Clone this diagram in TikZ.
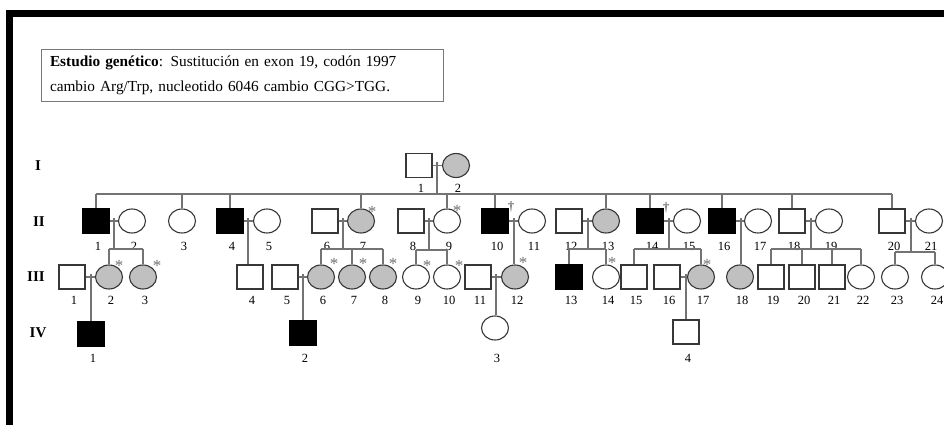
\documentclass[tikz,border=0pt]{standalone}
\usepackage{fontspec}
\setmainfont{Liberation Serif}
\usetikzlibrary{shapes.geometric}
\definecolor{linec}{RGB}{115,115,115}
\definecolor{symc}{RGB}{55,55,55}
\definecolor{carc}{RGB}{192,192,192}
\definecolor{boxc}{RGB}{120,120,120}
\newcommand{\pind}[6]{\node[#2] (#1) at (#3,#4) {}; \node[lab] (#1l) at (#3+2,#6) {#5};}
\begin{document}
\begin{tikzpicture}[x=1pt,y=-1pt,
 male/.style={rectangle,draw=symc,line width=1.1pt,fill=white,minimum width=26pt,minimum height=24pt,inner sep=0pt},
 female/.style={ellipse,draw=symc,line width=1.1pt,fill=white,minimum width=27pt,minimum height=24pt,inner sep=0pt},
 aff/.style={fill=black,draw=black},
 car/.style={fill=carc},
 lab/.style={font=\fontsize{12.5}{12.5}\selectfont,inner sep=0pt},
 ln/.style={draw=linec,line width=1.3pt},
 astk/.style={font=\fontsize{17}{17}\selectfont,text=linec,inner sep=0pt},
 dagg/.style={font=\fontsize{13}{13}\selectfont,text=black!80,inner sep=0pt},
 gen/.style={font=\fontsize{15}{15}\selectfont\bfseries,inner sep=0pt}]
\useasboundingbox (0,0) rectangle (944,425);
\clip (0,0) rectangle (944,425);
\fill[white] (0,0) rectangle (944,425);
% frame
\draw[line width=7pt] (1000,13.5) -- (9.5,13.5) -- (9.5,600);
% info box
\node[draw=boxc,line width=0.8pt,minimum width=402pt,minimum height=52pt,text width=384pt,inner xsep=9pt,align=left,font=\fontsize{15.3}{25}\selectfont] (info) at (242,75)
 {{\bfseries Estudio genético}: Sustitución en exon 19, codón 1997\\cambio Arg/Trp, nucleotido 6046 cambio CGG>TGG.};
% generation labels
\node[gen] (gI) at (38,166) {I};
\node[gen] (gII) at (39,222) {II};
\node[gen] (gIII) at (36,277) {III};
\node[gen] (gIV) at (38,333) {IV};
% Generation I
\pind{I1}{male}{419}{165.5}{1}{188}
\pind{I2}{female,car}{456}{165.5}{2}{188}
% Generation II
\pind{II1}{male,aff}{96}{221}{1}{246}
\pind{II2}{female}{132}{221}{2}{246}
\pind{II3}{female}{182}{221}{3}{246}
\pind{II4}{male,aff}{230}{221}{4}{246}
\pind{II5}{female}{267}{221}{5}{246}
\pind{II6}{male}{325}{221}{6}{246}
\pind{II7}{female,car}{361}{221}{7}{246}
\pind{II8}{male}{411}{221}{8}{246}
\pind{II9}{female}{447}{221}{9}{246}
\pind{II10}{male,aff}{495}{221}{10}{246}
\pind{II11}{female}{532}{221}{11}{246}
\pind{II12}{male}{569}{221}{12}{246}
\pind{II13}{female,car}{606}{221}{13}{246}
\pind{II14}{male,aff}{650}{221}{14}{246}
\pind{II15}{female}{687}{221}{15}{246}
\pind{II16}{male,aff}{722}{221}{16}{246}
\pind{II17}{female}{758}{221}{17}{246}
\pind{II18}{male}{792}{221}{18}{246}
\pind{II19}{female}{829}{221}{19}{246}
\pind{II20}{male}{892}{221}{20}{246}
\pind{II21}{female}{929}{221}{21}{246}
% Generation III
\pind{III1}{male}{72}{277}{1}{300}
\pind{III2}{female,car}{109}{277}{2}{300}
\pind{III3}{female,car}{143}{277}{3}{300}
\pind{III4}{male}{250}{277}{4}{300}
\pind{III5}{male}{285}{277}{5}{300}
\pind{III6}{female,car}{321}{277}{6}{300}
\pind{III7}{female,car}{352}{277}{7}{300}
\pind{III8}{female,car}{383}{277}{8}{300}
\pind{III9}{female}{416}{277}{9}{300}
\pind{III10}{female}{447}{277}{10}{300}
\pind{III11}{male}{478}{277}{11}{300}
\pind{III12}{female,car}{515}{277}{12}{300}
\pind{III13}{male,aff}{569}{277}{13}{300}
\pind{III14}{female}{606}{277}{14}{300}
\pind{III15}{male}{634}{277}{15}{300}
\pind{III16}{male}{667}{277}{16}{300}
\pind{III17}{female,car}{701}{277}{17}{300}
\pind{III18}{female,car}{740}{277}{18}{300}
\pind{III19}{male}{771}{277}{19}{300}
\pind{III20}{male}{802}{277}{20}{300}
\pind{III21}{male}{832}{277}{21}{300}
\pind{III22}{female}{861}{277}{22}{300}
\pind{III23}{female}{895}{277}{23}{300}
\pind{III24}{female}{935}{277}{24}{300}
% Generation IV
\pind{IV1}{male,aff}{91}{334}{1}{358}
\pind{IV2}{male,aff}{303}{333}{2}{358}
\pind{IV3}{female}{495}{328}{3}{358}
\pind{IV4}{male}{686}{332}{4}{358}
% asterisks and daggers
\foreach \n/\x/\y in {II7/372/212,II9/457/211,III2/119/266,III3/157/266,III6/334/264,III7/363/264,III8/393/264,III9/427/266,III10/459/266,III12/523/263,III14/612/263,III17/707/265}
  \node[astk] (\n a) at (\x,\y) {*};
\node[dagg] (II10d) at (511,207) {†};
\node[dagg] (II14d) at (666,208) {†};
% marriage lines
\foreach \a/\b in {I1/I2,II1/II2,II4/II5,II6/II7,II8/II9,II10/II11,II12/II13,II14/II15,II16/II17,II18/II19,II20/II21,III1/III2,III5/III6,III11/III12,III16/III17}
  \draw[ln] (\a) -- (\b);
% Generation I -> II
\coordinate (m0) at (437,162);
\coordinate (s0) at (437,194);
\draw[ln] (m0) -- (s0);
\draw[ln] (II1.north |- s0) -- (II20.north |- s0);
\foreach \c in {II1,II3,II4,II7,II9,II10,II13,II14,II16,II18,II20}
  \draw[ln] (\c.north |- s0) -- (\c.north);
% Generation II -> III
\coordinate (m1) at (114,218); \coordinate (s1) at (114,249);
\draw[ln] (m1) -- (s1);
\draw[ln] (III2.north |- s1) -- (III3.north |- s1);
\foreach \c in {III2,III3} \draw[ln] (\c.north |- s1) -- (\c.north);
\coordinate (m2) at (248,218);
\draw[ln] (m2) -- (m2 |- III4.north);
\coordinate (m3) at (343,218); \coordinate (s3) at (343,249);
\draw[ln] (m3) -- (s3);
\draw[ln] (III6.north |- s3) -- (III8.north |- s3);
\foreach \c in {III6,III7,III8} \draw[ln] (\c.north |- s3) -- (\c.north);
\coordinate (m4) at (429,218); \coordinate (s4) at (429,250);
\draw[ln] (m4) -- (s4);
\draw[ln] (III9.north |- s4) -- (III10.north |- s4);
\foreach \c in {III9,III10} \draw[ln] (\c.north |- s4) -- (\c.north);
\coordinate (m5) at (514,218);
\draw[ln] (m5) -- (m5 |- III12.north);
\coordinate (m6) at (588,218); \coordinate (s6) at (588,249);
\draw[ln] (m6) -- (s6);
\draw[ln] (III13.north |- s6) -- (III14.north |- s6);
\foreach \c in {III13,III14} \draw[ln] (\c.north |- s6) -- (\c.north);
\coordinate (m7) at (669,218); \coordinate (s7) at (669,249);
\draw[ln] (m7) -- (s7);
\draw[ln] (III15.north |- s7) -- (III17.north |- s7);
\foreach \c in {III15,III17} \draw[ln] (\c.north |- s7) -- (\c.north);
\coordinate (m8) at (741,218);
\draw[ln] (m8) -- (m8 |- III18.north);
\coordinate (m9) at (811,218); \coordinate (s9) at (811,249);
\draw[ln] (m9) -- (s9);
\draw[ln] (III19.north |- s9) -- (III22.north |- s9);
\foreach \c in {III19,III20,III21,III22} \draw[ln] (\c.north |- s9) -- (\c.north);
\coordinate (m10) at (911,218); \coordinate (s10) at (911,252);
\draw[ln] (m10) -- (s10);
\draw[ln] (III23.north |- s10) -- (III24.north |- s10);
\foreach \c in {III23,III24} \draw[ln] (\c.north |- s10) -- (\c.north);
% Generation III -> IV
\coordinate (n1) at (91,274);
\draw[ln] (n1) -- (n1 |- IV1.north);
\coordinate (n2) at (303,274);
\draw[ln] (n2) -- (n2 |- IV2.north);
\coordinate (n3) at (496,274);
\draw[ln] (n3) -- (n3 |- IV3.north);
\coordinate (n4) at (686,274);
\draw[ln] (n4) -- (n4 |- IV4.north);
\end{tikzpicture}
\end{document}
